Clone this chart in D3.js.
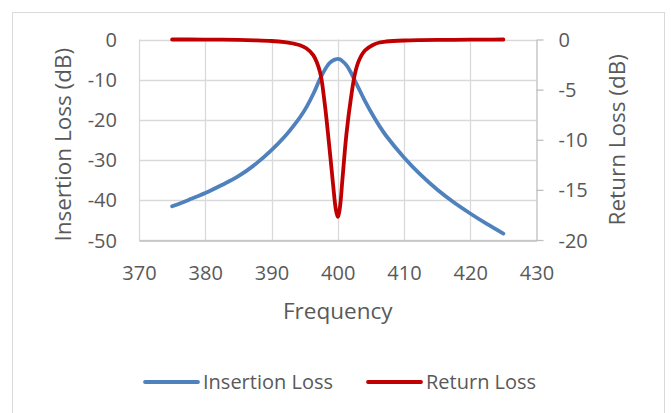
<!DOCTYPE html>
<html>
<head>
<meta charset="utf-8">
<script src="https://cdn.jsdelivr.net/npm/d3@7"></script>
<style>
  html, body { margin: 0; padding: 0; background: #fff; }
  svg { display: block; }
  text { font-family: "Open Sans", sans-serif; fill: #595959; }
</style>
</head>
<body>
<svg id="chart" width="671" height="413"></svg>
<script>
// ---- data ----
const frequency = [375, 377.5, 380, 382.5, 385, 387.5, 390, 392, 393.3, 394.3, 395.3, 396.3,
  397.3, 398.0, 398.7, 399.3, 399.7, 400, 400.3, 400.7, 401.3, 402.0, 402.6, 403.2,
  404.1, 405.3, 406.3, 407.3, 410, 412.5, 415, 417.5, 420, 422.5, 425];
const insertionLoss = [-41.6, -40.0, -38.3, -36.3, -34.1, -31.2, -27.6, -24.2, -21.6, -19.4, -16.8, -13.6,
  -9.9, -7.7, -6.0, -5.2, -4.95, -4.85, -4.95, -5.4, -6.4, -8.3, -10.3, -12.3,
  -15.3, -18.9, -21.6, -24.0, -29.4, -33.7, -37.4, -40.6, -43.4, -46.0, -48.4];
const returnLoss = [0, 0, -0.01, -0.02, -0.04, -0.08, -0.15, -0.27, -0.4, -0.57, -0.9, -1.56,
  -3.2, -6.2, -10.5, -14.5, -16.9, -17.7, -16.9, -14.0, -9.5, -5.8, -3.4, -2.1,
  -1.1, -0.55, -0.3, -0.2, -0.1, -0.06, -0.04, -0.03, -0.02, -0.01, 0];
const xTicks = [370, 380, 390, 400, 410, 420, 430];
const yLeftTicks = [0, -10, -20, -30, -40, -50];
const yRightTicks = [0, -5, -10, -15, -20];
const seriesNames = ["Insertion Loss", "Return Loss"];
const seriesColors = ["#4f81bd", "#c00000"];

// ---- layout ----
const svg = d3.select("#chart");
const L = 139, R = 536.5, T = 39.5, B = 240;
const fmt = d => String(d);

const x = d3.scaleLinear().domain([370, 430]).range([L, R]);
const yL = d3.scaleLinear().domain([-50, 0]).range([B, T]);
const yR = d3.scaleLinear().domain([-20, 0]).range([B, T]);

// chart border
svg.append("rect").attr("x", 12.5).attr("y", 12.5).attr("width", 652).attr("height", 430)
  .attr("fill", "none").attr("stroke", "#d9d9d9").attr("stroke-width", 1);

// gridlines
svg.append("g").selectAll("line").data(yLeftTicks).join("line")
  .attr("x1", L).attr("x2", R)
  .attr("y1", d => Math.round(yL(d)) + 0.5).attr("y2", d => Math.round(yL(d)) + 0.5)
  .attr("stroke", "#d9d9d9").attr("stroke-width", 1.3);
svg.append("g").selectAll("line").data(xTicks.slice(0, -1)).join("line")
  .attr("x1", d => Math.round(x(d)) + 0.5).attr("x2", d => Math.round(x(d)) + 0.5)
  .attr("y1", T).attr("y2", B)
  .attr("stroke", "#d9d9d9").attr("stroke-width", 1.3);

// bottom axis
const xAxis = svg.append("g").attr("transform", `translate(0,${B + 0.5})`)
  .call(d3.axisBottom(x).tickValues(xTicks).tickFormat(fmt).tickSize(0).tickSizeOuter(0).tickPadding(0));
xAxis.select(".domain").attr("stroke", "#bfbfbf").attr("stroke-width", 1.3);
xAxis.selectAll("text").attr("font-size", 20).attr("dy", null).attr("y", 39)
  .attr("fill", "#595959").style("font-family", "'Open Sans', sans-serif");

// left axis (labels only)
const yAxisL = svg.append("g").attr("transform", `translate(${L},0)`)
  .call(d3.axisLeft(yL).tickValues(yLeftTicks).tickFormat(fmt).tickSize(0).tickSizeOuter(0).tickPadding(22));
yAxisL.select(".domain").remove();
yAxisL.selectAll("text").attr("font-size", 20).attr("dy", "0.35em")
  .attr("fill", "#595959").style("font-family", "'Open Sans', sans-serif");

// right axis
const yAxisR = svg.append("g").attr("transform", `translate(${R},0)`)
  .call(d3.axisRight(yR).tickValues(yRightTicks).tickFormat(fmt).tickSize(7).tickSizeOuter(0).tickPadding(15));
yAxisR.select(".domain").attr("stroke", "#bfbfbf").attr("stroke-width", 1.3);
yAxisR.selectAll(".tick line").attr("stroke", "#bfbfbf").attr("stroke-width", 1.3);
yAxisR.selectAll("text").attr("font-size", 20).attr("dy", "0.35em")
  .attr("fill", "#595959").style("font-family", "'Open Sans', sans-serif");

// axis titles
svg.append("text").attr("transform", `translate(62,${(T + B) / 2 + 5}) rotate(-90)`)
  .attr("text-anchor", "middle").attr("dominant-baseline", "central")
  .attr("font-size", 22.5).text("Insertion Loss (dB)");
svg.append("text").attr("transform", `translate(616,${(T + B) / 2}) rotate(-90)`)
  .attr("text-anchor", "middle").attr("dominant-baseline", "central")
  .attr("font-size", 22.5).text("Return Loss (dB)");
svg.append("text").attr("x", (L + R) / 2).attr("y", 319)
  .attr("text-anchor", "middle").attr("font-size", 22.5).text("Frequency");

// series
const lineIL = d3.line().x((d, i) => x(frequency[i])).y(d => yL(d)).curve(d3.curveCatmullRom.alpha(0.5));
const lineRL = d3.line().x((d, i) => x(frequency[i])).y(d => yR(d)).curve(d3.curveCatmullRom.alpha(0.5));
svg.append("path").datum(insertionLoss).attr("d", lineIL)
  .attr("fill", "none").attr("stroke", seriesColors[0]).attr("stroke-width", 3.8)
  .attr("stroke-linecap", "round").attr("stroke-linejoin", "round");
svg.append("path").datum(returnLoss).attr("d", lineRL)
  .attr("fill", "none").attr("stroke", seriesColors[1]).attr("stroke-width", 3.8)
  .attr("stroke-linecap", "round").attr("stroke-linejoin", "round");

// legend
const legendX = [145, 368];
const lg = svg.append("g").selectAll("g").data(seriesNames).join("g")
  .attr("transform", (d, i) => `translate(${legendX[i]},382)`);
lg.append("line").attr("x1", 0).attr("x2", 53).attr("y1", 0).attr("y2", 0)
  .attr("stroke", (d, i) => seriesColors[i]).attr("stroke-width", 3.8).attr("stroke-linecap", "round");
lg.append("text").attr("x", 58).attr("y", 7).attr("font-size", 20).text(d => d);
</script>
</body>
</html>
